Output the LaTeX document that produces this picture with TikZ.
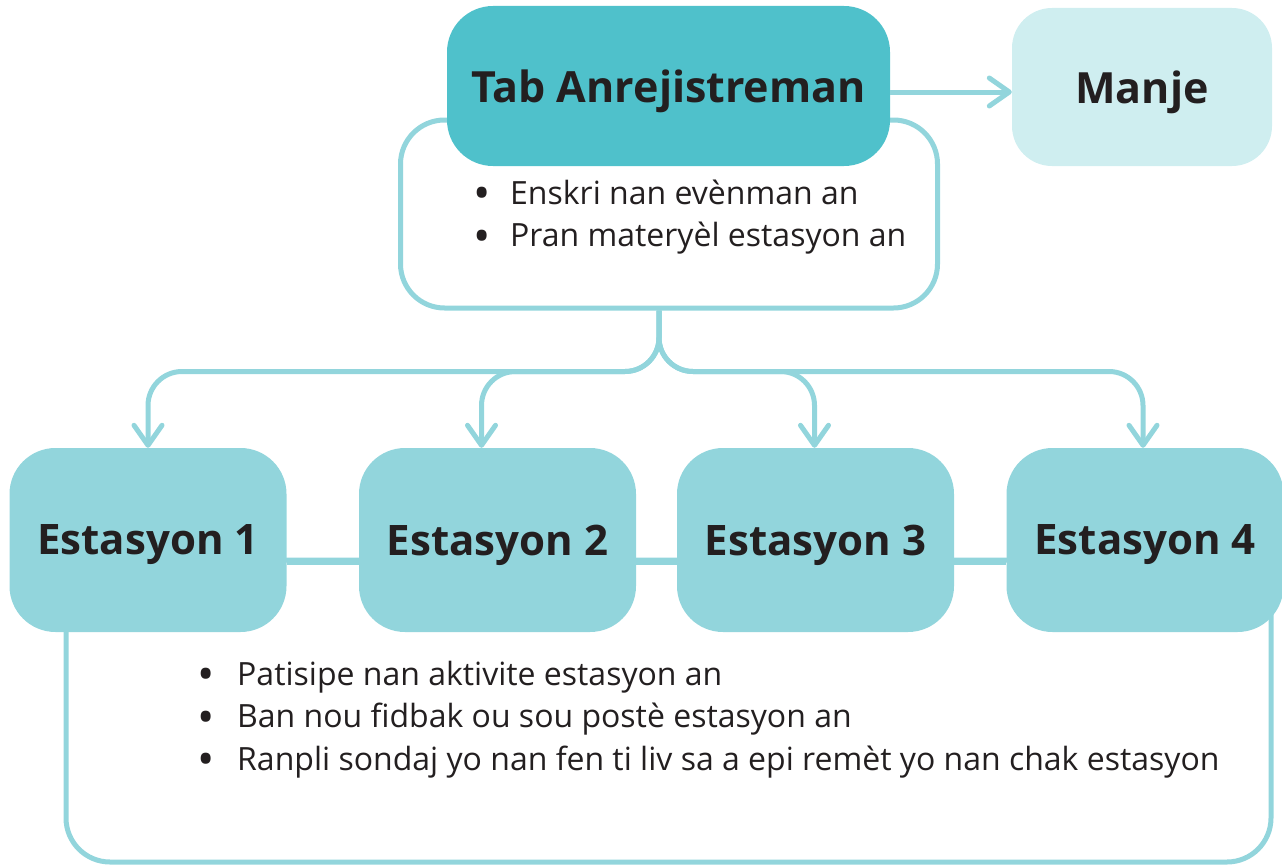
\documentclass[tikz,border=0pt]{standalone}
\usepackage{fontspec}
\setmainfont{Open Sans}
\usetikzlibrary{arrows.meta}
\definecolor{tabc}{HTML}{4FC1CB}
\definecolor{stc}{HTML}{92D5DC}
\definecolor{lc}{HTML}{92D5DC}
\definecolor{mjc}{HTML}{CFEEF0}
\definecolor{txt}{HTML}{231F20}
\newcommand{\bigdot}{\makebox[12pt][c]{\fontsize{46}{46}\selectfont\raisebox{-5.5pt}{•}}}
\begin{document}
\begin{tikzpicture}[x=1pt,y=-1pt,
  stn/.style={fill=stc, rounded corners=46pt, minimum width=277pt, minimum height=184pt, inner sep=0pt, text depth=0pt, text=txt, font=\fontsize{42}{50}\selectfont\bfseries},
  headbox/.style={rounded corners=46pt, inner sep=0pt, text depth=0pt, text=txt, font=\fontsize{43}{52}\selectfont\bfseries},
  outline/.style={draw=lc, line width=5pt, fill=white, rounded corners=44pt, inner sep=0pt},
  conn/.style={draw=lc, line width=5pt},
  arr/.style={conn, rounded corners=34pt, -{Straight Barb[length=20pt,width=28pt,round]}},
  bul/.style={anchor=base west, inner sep=0pt, text=txt, font=\fontsize{32}{42.5}\selectfont}
]
\useasboundingbox (0,0) rectangle (1282,867);
% outline boxes
\node[outline, minimum width=537pt, minimum height=188pt] (info1) at (669,214) {};
\node[outline, minimum width=1205pt, minimum height=302pt] (info2) at (668.5,711) {};
% top boxes
\node[headbox, fill=tabc, minimum width=443pt, minimum height=160pt] (tab) at (668.5,86) {Tab Anrejistreman};
\node[headbox, fill=mjc, rounded corners=40pt, minimum width=260pt, minimum height=158pt] (manje) at (1142,87) {Manje};
\draw[arr] ([yshift=-6pt]tab.east) -- ([yshift=-5pt]manje.west);
% bullets top
\node[bul] (list1) at (476,204) {\begin{tabular}[t]{@{}l@{\hspace{22pt}}l@{}}\bigdot&Enskri nan evènman an\\ \bigdot&Pran materyèl estasyon an\end{tabular}};
% stations
\node[stn] (e1) at (148,540) {Estasyon 1};
\node[stn] (e2) at (497.5,540) {Estasyon 2};
\node[stn] (e3) at (815.5,540) {Estasyon 3};
\node[stn] (e4) at (1145,540) {Estasyon 4};
% links between stations
\draw[conn] ([yshift=-22pt]e1.east) -- ([yshift=-22pt]e2.west);
\draw[conn] ([yshift=-22pt]e2.east) -- ([yshift=-22pt]e3.west);
\draw[conn] ([yshift=-22pt]e3.east) -- ([yshift=-22pt]e4.west);
% tree connectors
\coordinate (root) at ([xshift=-10pt]info1.south);
\draw[arr] (root) -- ++(0,61) -| (e1.north);
\draw[arr] (root) -- ++(0,61) -| ([xshift=-16pt]e2.north);
\draw[arr] (root) -- ++(0,61) -| ([xshift=-1pt]e3.north);
\draw[arr] (root) -- ++(0,61) -| ([xshift=-2pt]e4.north);
% bottom bullets
\node[bul] (list2) at (200,685) {\begin{tabular}[t]{@{}l@{\hspace{25pt}}l@{}}\bigdot&Patisipe nan aktivite estasyon an\\ \bigdot&Ban nou fidbak ou sou postè estasyon an\\ \bigdot&Ranpli sondaj yo nan fen ti liv sa a epi remèt yo nan chak estasyon\end{tabular}};
\end{tikzpicture}
\end{document}
